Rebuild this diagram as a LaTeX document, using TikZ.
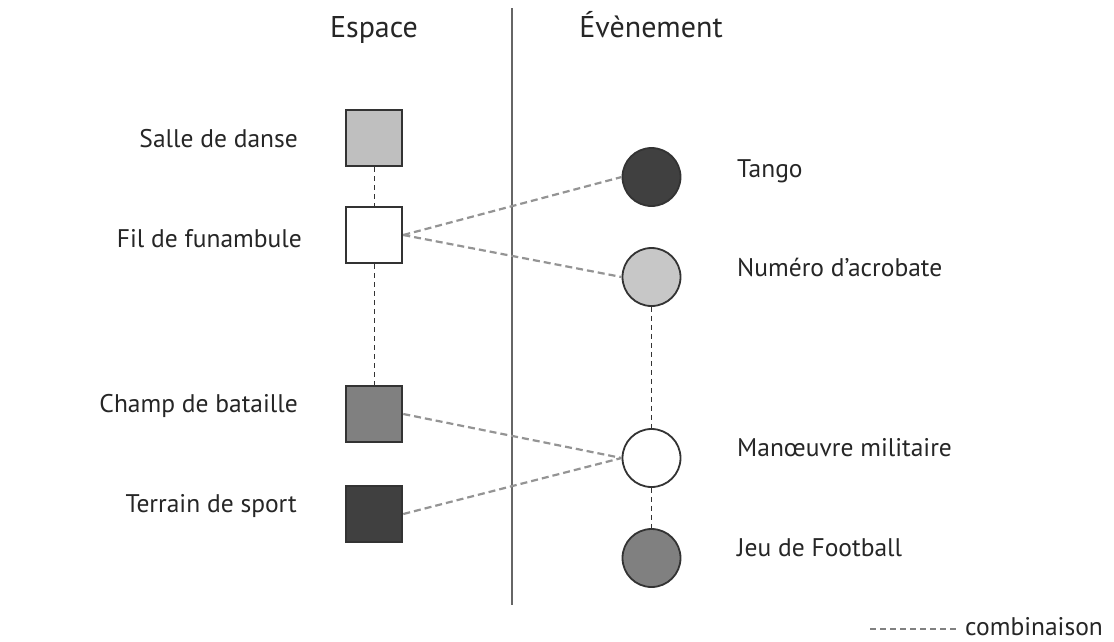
\documentclass[tikz,border=0pt]{standalone}
\usepackage{fontspec}
\setmainfont{PT Sans}
\begin{document}
\begin{tikzpicture}[x=1pt,y=-1pt,
  lbl/.style={font=\fontsize{25.5}{28}\selectfont, text=black!85, inner sep=0pt},
  hdr/.style={font=\fontsize{30}{34}\selectfont, text=black!85, inner sep=0pt},
  sq/.style={draw=black!80, line width=2.6pt, minimum size=56pt, inner sep=0pt, rectangle},
  ci/.style={draw=black!80, line width=1.8pt, minimum size=58pt, inner sep=0pt, circle},
  combo/.style={draw=black!42, line width=2.2pt, dash pattern=on 7pt off 4pt},
  vlink/.style={draw=black!80, line width=1pt, dash pattern=on 5pt off 4pt},
  legline/.style={draw=black!50, line width=1.4pt, dash pattern=on 6pt off 4pt}]
\useasboundingbox (0,0) rectangle (1114,641);
\fill[white] (0,0) rectangle (1114,641);
% divider
\coordinate (dtop) at (512,8);
\coordinate (dbot) at (512,605);
\draw[black!60, line width=1.2pt] (dtop) -- (dbot);
% headers
\node[hdr, anchor=base] (hE) at (374,37) {Espace};
\node[hdr, anchor=base] (hV) at (651,37) {Évènement};
% squares
\node[sq, fill=black!25] (salle) at (374,138) {};
\node[sq, fill=white] (fil) at (374,235) {};
\node[sq, fill=black!50] (champ) at (374,414) {};
\node[sq, fill=black!75] (terrain) at (374,514) {};
% circles
\node[ci, fill=black!75] (tango) at (651.5,177) {};
\node[ci, fill=black!22] (numero) at (651.5,277) {};
\node[ci, fill=white] (manoeuvre) at (651.5,458) {};
\node[ci, fill=black!50] (jeu) at (651.5,558) {};
% left labels
\node[lbl, anchor=base east] (lsalle) at (298,147) {Salle de danse};
\node[lbl, anchor=base east] (lfil) at (302,247) {Fil de funambule};
\node[lbl, anchor=base east] (lchamp) at (298,412) {Champ de bataille};
\node[lbl, anchor=base east] (lterrain) at (297,512) {Terrain de sport};
% right labels
\node[lbl, anchor=base west] (ltango) at (737,177) {Tango};
\node[lbl, anchor=base west] (lnumero) at (737,276) {Numéro d’acrobate};
\node[lbl, anchor=base west] (lmanoeuvre) at (737,456) {Manœuvre militaire};
\node[lbl, anchor=base west] (ljeu) at (737,556) {Jeu de Football};
% vertical links
\draw[vlink] (salle.south) -- (fil.north);
\draw[vlink] (fil.south) -- (champ.north);
\draw[vlink] (numero.south) -- (manoeuvre.north);
\draw[vlink] (manoeuvre.south) -- (jeu.north);
% combinations
\draw[combo] (fil.east) -- (tango.west);
\draw[combo] (fil.east) -- (numero.west);
\draw[combo] (champ.east) -- (manoeuvre.west);
\draw[combo] (terrain.east) -- (manoeuvre.west);
% legend
\coordinate (lega) at (870,629);
\coordinate (legb) at (957,629);
\draw[legline] (lega) -- (legb);
\node[lbl, anchor=base west] (legtxt) at (965,635) {combinaison};
\end{tikzpicture}
\end{document}
